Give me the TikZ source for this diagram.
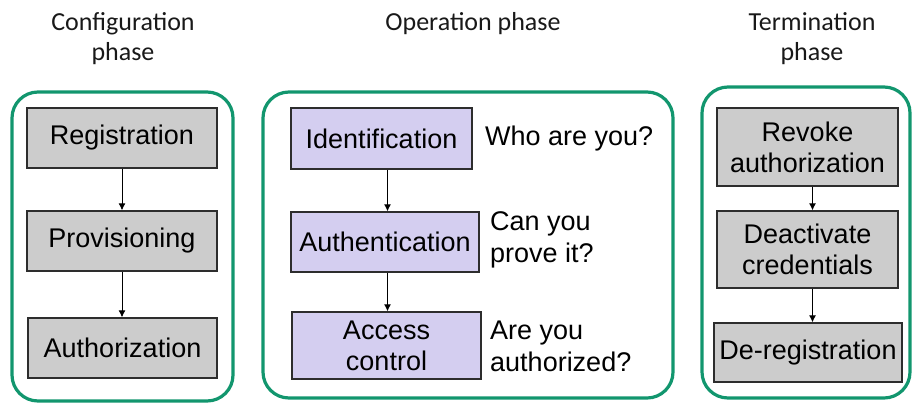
\documentclass[tikz,border=0pt]{standalone}
\usepackage{fontspec}
\setmainfont{Liberation Sans}
\newfontfamily\headfont{Carlito}
\usetikzlibrary{arrows.meta}
\definecolor{framegreen}{RGB}{18,150,110}
\definecolor{boxgray}{RGB}{204,204,204}
\definecolor{boxpurple}{RGB}{212,206,240}
\definecolor{boxline}{RGB}{45,45,45}
\tikzset{
  phaseframe/.style={draw=framegreen, line width=3.2pt, rounded corners=26pt},
  graybox/.style={draw=boxline, line width=1.4pt, fill=boxgray, inner sep=0pt, align=center,
    font=\fontsize{27}{31}\selectfont},
  purplebox/.style={graybox, fill=boxpurple},
  question/.style={anchor=west, align=left, inner sep=0pt, font=\fontsize{27}{32}\selectfont},
  header/.style={align=center, inner sep=0pt, text=black!90, font=\headfont\fontsize{26}{30}\selectfont},
  flow/.style={-{Latex[length=7pt,width=7pt]}, line width=0.9pt, draw=black},
}
\begin{document}
\begin{tikzpicture}[x=1pt,y=-1pt]
\useasboundingbox (0,0) rectangle (912,402);
% frames
\draw[phaseframe] (12,92) rectangle (233,401);
\draw[phaseframe] (263,92) rectangle (673,398);
\draw[phaseframe] (702,87) rectangle (910,398);
% headers
\node[header] (h1) at (123,39) {Configuration\\phase};
\node[header] (h2) at (473,24) {Operation phase};
\node[header] (h3) at (812,39) {Termination\\phase};
% configuration
\node[graybox, minimum width=190pt, minimum height=60pt] (reg) at (122,138) {\raisebox{-2pt}{Registration}};
\node[graybox, minimum width=190pt, minimum height=60pt] (prov) at (122,241) {\raisebox{-2pt}{Provisioning}};
\node[graybox, minimum width=189pt, minimum height=60pt] (auth) at (122.5,348) {\raisebox{-2pt}{Authorization}};
% operation
\node[purplebox, minimum width=181pt, minimum height=61pt] (ident) at (381.5,138.5) {\raisebox{-2pt}{Identification}};
\node[purplebox, minimum width=188pt, minimum height=60pt] (authn) at (385,242) {\raisebox{-2pt}{Authentication}};
\node[purplebox, minimum width=189pt, minimum height=67pt] (acc) at (386.5,345.5) {Access\\control};
\node[question] (q1) at (485,139) {Who are you?};
\node[question] (q2) at (490,240) {Can you\\prove it?};
\node[question] (q3) at (490,346) {Are you\\authorized?};
% termination
\node[graybox, minimum width=181pt, minimum height=78pt] (rev) at (807.5,147) {Revoke\\authorization};
\node[graybox, minimum width=181pt, minimum height=77pt] (deact) at (807.5,249.5) {Deactivate\\credentials};
\node[graybox, minimum width=188pt, minimum height=59pt] (dereg) at (808,352.5) {\raisebox{-2pt}{De-registration}};
% connectors
\draw[flow] (reg.south) -- (reg.south |- prov.north);
\draw[flow] (prov.south) -- (prov.south |- auth.north);
\draw[flow] ([xshift=6pt]ident.south) -- ([xshift=6pt]ident.south |- authn.north);
\draw[flow] ([xshift=6pt]ident.south |- authn.south) -- ([xshift=6pt]ident.south |- acc.north);
\draw[flow] ([xshift=5pt]rev.south) -- ([xshift=5pt]rev.south |- deact.north);
\draw[flow] ([xshift=5pt]rev.south |- deact.south) -- ([xshift=5pt]rev.south |- dereg.north);
\end{tikzpicture}
\end{document}
